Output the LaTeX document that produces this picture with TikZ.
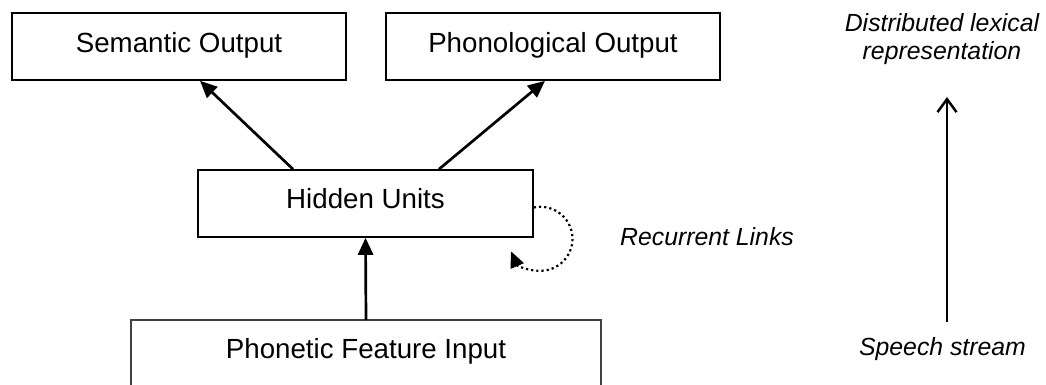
\documentclass[tikz,border=0pt]{standalone}
\usepackage{fontspec}
\setmainfont{Liberation Sans}
\usetikzlibrary{arrows.meta}
\begin{document}
\begin{tikzpicture}[x=1pt,y=-1pt,
  box/.style={draw=black, line width=1.6pt, inner sep=0pt, font=\fontsize{27.7}{33}\selectfont},
  flow/.style={line width=2.7pt, -{Triangle[length=17pt,width=15pt]}},
  lbl/.style={font=\fontsize{24.8}{28}\selectfont\itshape, inner sep=0pt, align=center}]
\useasboundingbox (0,0) rectangle (1046,385);
% boxes
\node[box, minimum width=334pt, text height=40pt, text depth=27pt] (sem) at (179,46.5) {Semantic Output};
\node[box, minimum width=334pt, text height=40pt, text depth=27pt] (phon) at (553,46.5) {Phonological Output};
\node[box, minimum width=335pt, text height=38pt, text depth=29pt] (hid) at (365.5,203.5) {Hidden Units};
\node[box, draw=none, minimum width=468pt, text height=37pt, text depth=27pt] (pfi) at (366,353) {Phonetic Feature Input};
\draw[line width=1.6pt, draw=black!75] (pfi.south west) -- (pfi.north west) -- (pfi.north east) -- (pfi.south east);
% connectors
\draw[flow] ([xshift=-72.5pt]hid.north) -- ([xshift=21pt]sem.south);
\draw[flow] ([xshift=73.5pt]hid.north) -- ([xshift=-8pt]phon.south);
\draw[flow] (pfi.north) -- (hid.south);
\draw[line width=2.2pt, dash pattern=on 2.2pt off 3pt, -{Triangle[length=16pt,width=14pt]}] ([yshift=-4pt]hid.east) arc[start angle=-102, end angle=157, radius=32];
% labels
\node[lbl, anchor=base west] (rec) at (620,245) {Recurrent Links};
\node[lbl, anchor=base] (dist) at (942,60) {Distributed lexical\\representation};
\node[lbl, anchor=base] (speech) at (942.5,355) {Speech stream};
\coordinate (ssBot) at (947,322);
\coordinate (ssTop) at (947,97);
\draw[line width=2.5pt, -{Straight Barb[length=13pt,width=19pt]}] (ssBot) -- (ssTop);
\end{tikzpicture}
\end{document}
